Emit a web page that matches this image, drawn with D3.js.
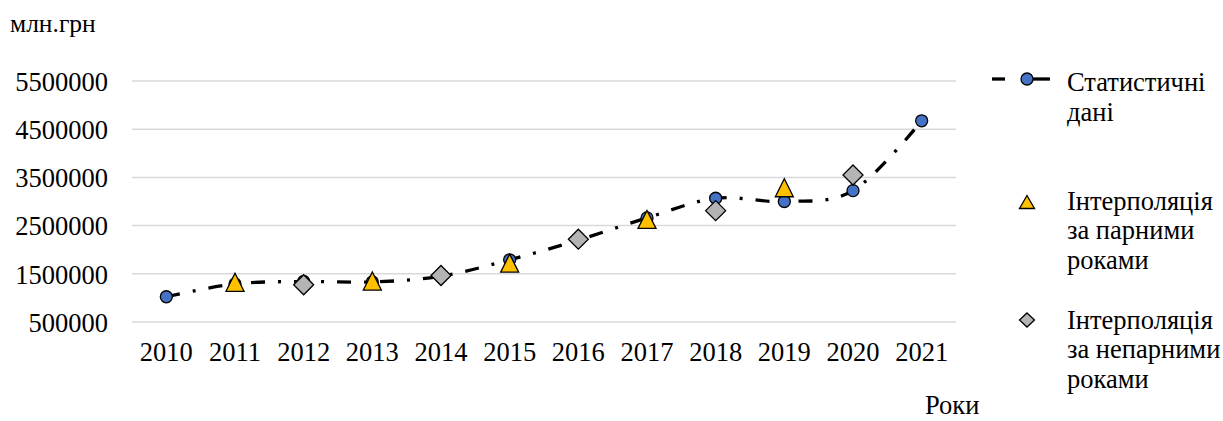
<!DOCTYPE html>
<html>
<head>
<meta charset="utf-8">
<script src="https://cdnjs.cloudflare.com/ajax/libs/d3/7.8.5/d3.min.js"></script>
<style>
  body { margin: 0; background: #fff; }
</style>
</head>
<body>
<script>
// data
var years = ["2010", "2011", "2012", "2013", "2014", "2015", "2016", "2017", "2018", "2019", "2020", "2021"];
var statValues = [1024000, 1290000, 1340000, 1330000, 1450000, 1790000, 2200000, 2660000, 3067000, 3000000, 3225000, 4674000];
var evenYears = ["2011", "2013", "2015", "2017", "2019"];
var evenInterp = [1324000, 1350000, 1722000, 2628000, 3285000];
var oddYears = ["2012", "2014", "2016", "2018", "2020"];
var oddInterp = [1272000, 1465000, 2218000, 2810000, 3550000];
var yTicks = [500000, 1500000, 2500000, 3500000, 4500000, 5500000];

var width = 1223;
var height = 421;
var serif = "'Liberation Serif'";
var fs = "26.5px";

var margin = {
    top: 81,
    bottom: 99,
    left: 132,
    right: 267,
}

var svg = d3.select("body")
    .append("svg")
    .attr("width", width)
    .attr("height", height);

var innerW = width - margin.left - margin.right;
var innerH = height - margin.top - margin.bottom;

var g = svg.append("g")
    .attr("transform", "translate(" + margin.left + "," + margin.top + ")");

var x = d3.scaleBand()
    .domain(years)
    .range([0, innerW]);

var y = d3.scaleLinear()
    .domain([500000, 5500000])
    .range([innerH, 0]);

function cx(yr) { return x(yr) + x.bandwidth() / 2; }

// gridlines
g.selectAll(".grid")
    .data(yTicks)
    .enter()
    .append("line")
    .attr("x1", 0)
    .attr("x2", innerW)
    .attr("y1", function(d) { return y(d); })
    .attr("y2", function(d) { return y(d); })
    .attr("stroke", "#d9d9d9")
    .attr("stroke-width", 1.5);

// y axis labels
var yAxis = d3.axisLeft(y).tickValues(yTicks).tickSize(0).tickPadding(24).tickFormat(d3.format("d"));
var ya = g.append("g").call(yAxis);
ya.select(".domain").remove();
ya.selectAll("text")
    .style("font-family", serif)
    .style("font-size", fs)
    .attr("fill", "#000")
    .attr("dy", "0.35em");

// x axis labels
var xAxis = d3.axisBottom(x).tickSize(0).tickPadding(20);
var xa = g.append("g").attr("transform", "translate(0," + innerH + ")").call(xAxis);
xa.select(".domain").remove();
xa.selectAll("text")
    .style("font-family", serif)
    .style("font-size", fs)
    .attr("fill", "#000");

// unit and axis titles
svg.append("text")
    .attr("x", 10)
    .attr("y", 32)
    .style("font-family", serif)
    .style("font-size", "25.5px")
    .text("млн.грн");

svg.append("text")
    .attr("x", 925)
    .attr("y", 414)
    .style("font-family", serif)
    .style("font-size", fs)
    .text("Роки");

// statistic line
var statData = years.map(function(d, i) { return { year: d, value: statValues[i] }; });

var line = d3.line()
    .x(function(d) { return cx(d.year); })
    .y(function(d) { return y(d.value); })
    .curve(d3.curveCardinal.tension(0));

g.append("path")
    .datum(statData)
    .attr("d", line)
    .attr("fill", "none")
    .attr("stroke", "#000")
    .attr("stroke-width", 3.3)
    .attr("stroke-dasharray", "14,13,3,13");

var markerStroke = "#000";

function trianglePath(w, h) {
    // bbox centred triangle
    return "M0," + (-h / 2) + "L" + (w / 2) + "," + (h / 2) + "L" + (-w / 2) + "," + (h / 2) + "Z";
}
function diamondPath(w, h) {
    return "M0," + (-h / 2) + "L" + (w / 2) + ",0L0," + (h / 2) + "L" + (-w / 2) + ",0Z";
}

g.selectAll(".stat")
    .data(statData)
    .enter()
    .append("circle")
    .attr("cx", function(d) { return cx(d.year); })
    .attr("cy", function(d) { return y(d.value); })
    .attr("r", 6)
    .attr("fill", "#4472c4")
    .attr("stroke", markerStroke)
    .attr("stroke-width", 1.3);

g.selectAll(".even")
    .data(evenYears.map(function(d, i) { return { year: d, value: evenInterp[i] }; }))
    .enter()
    .append("path")
    .attr("d", trianglePath(18, 18))
    .attr("transform", function(d) { return "translate(" + cx(d.year) + "," + y(d.value) + ")"; })
    .attr("fill", "#ffc000")
    .attr("stroke", markerStroke)
    .attr("stroke-width", 1.3);

g.selectAll(".odd")
    .data(oddYears.map(function(d, i) { return { year: d, value: oddInterp[i] }; }))
    .enter()
    .append("path")
    .attr("d", diamondPath(20, 20))
    .attr("transform", function(d) { return "translate(" + cx(d.year) + "," + y(d.value) + ")"; })
    .attr("fill", "#b4b4b4")
    .attr("stroke", markerStroke)
    .attr("stroke-width", 1.3);

// legend
var legend = svg.append("g");

legend.append("line")
    .attr("x1", 992).attr("x2", 1005).attr("y1", 79).attr("y2", 79)
    .attr("stroke", "#000").attr("stroke-width", 3.3);
legend.append("line")
    .attr("x1", 1033).attr("x2", 1050).attr("y1", 79).attr("y2", 79)
    .attr("stroke", "#000").attr("stroke-width", 3.3);
legend.append("circle")
    .attr("cx", 1027).attr("cy", 79).attr("r", 6)
    .attr("fill", "#4472c4").attr("stroke", markerStroke).attr("stroke-width", 1.3);

legend.append("path")
    .attr("d", trianglePath(15, 13))
    .attr("transform", "translate(1027,202)")
    .attr("fill", "#ffc000").attr("stroke", markerStroke).attr("stroke-width", 1.3);

legend.append("path")
    .attr("d", diamondPath(15, 14))
    .attr("transform", "translate(1027,320)")
    .attr("fill", "#b4b4b4").attr("stroke", markerStroke).attr("stroke-width", 1.3);

var legendText = [
    { y: 91, lines: ["Статистичні", "дані"] },
    { y: 209.5, lines: ["Інтерполяція", "за парними", "роками"] },
    { y: 328.5, lines: ["Інтерполяція", "за непарними", "роками"] }
];

legendText.forEach(function(item) {
    item.lines.forEach(function(t, i) {
        legend.append("text")
            .attr("x", 1067)
            .attr("y", item.y + i * 29.5)
            .style("font-family", serif)
            .style("font-size", fs)
            .text(t);
    });
});
</script>
</body>
</html>
